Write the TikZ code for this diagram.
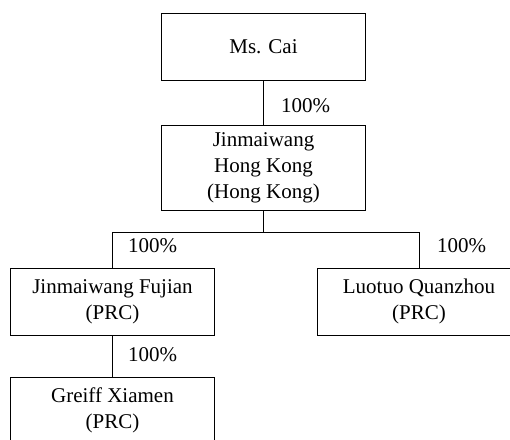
\documentclass[tikz,border=0pt]{standalone}
\usepackage{fontspec}
\setmainfont{Liberation Serif}
\begin{document}
\begin{tikzpicture}[x=1pt,y=-1pt,
  every node/.style={font=\fontsize{21}{26}\selectfont},
  entity/.style={draw, line width=1pt, align=center, minimum width=204pt, inner sep=0pt},
  link/.style={line width=1pt},
  pct/.style={anchor=west, inner sep=0pt}]
\useasboundingbox (0,0) rectangle (510,439);
\clip (0,0) rectangle (510,439);
\node[entity, minimum height=67pt] (cai) at (263.5,46.5) {Ms. Cai};
\node[entity, minimum height=85pt] (hk) at (263.5,167.5) {Jinmaiwang\\Hong Kong\\(Hong Kong)};
\node[entity, minimum height=67pt] (fj) at (112.5,301.5) {Jinmaiwang Fujian\\(PRC)};
\node[entity, minimum height=67pt] (lq) at (419,301.5) {Luotuo Quanzhou\\(PRC)};
\node[entity, minimum height=67pt] (gx) at (112.5,410.5) {Greiff Xiamen\\(PRC)};
\coordinate (bar) at (263.5,232.5);
\draw[link] (cai.south) -- (hk.north);
\draw[link] (hk.south) -- (bar);
\draw[link] (fj.north) |- (bar) -| (lq.north);
\draw[link] (fj.south) -- (gx.north);
\node[pct] (p1) at (281,106) {100\%};
\node[pct] (p2) at (128,246) {100\%};
\node[pct] (p3) at (437,246) {100\%};
\node[pct] (p4) at (128,355) {100\%};
\end{tikzpicture}
\end{document}
